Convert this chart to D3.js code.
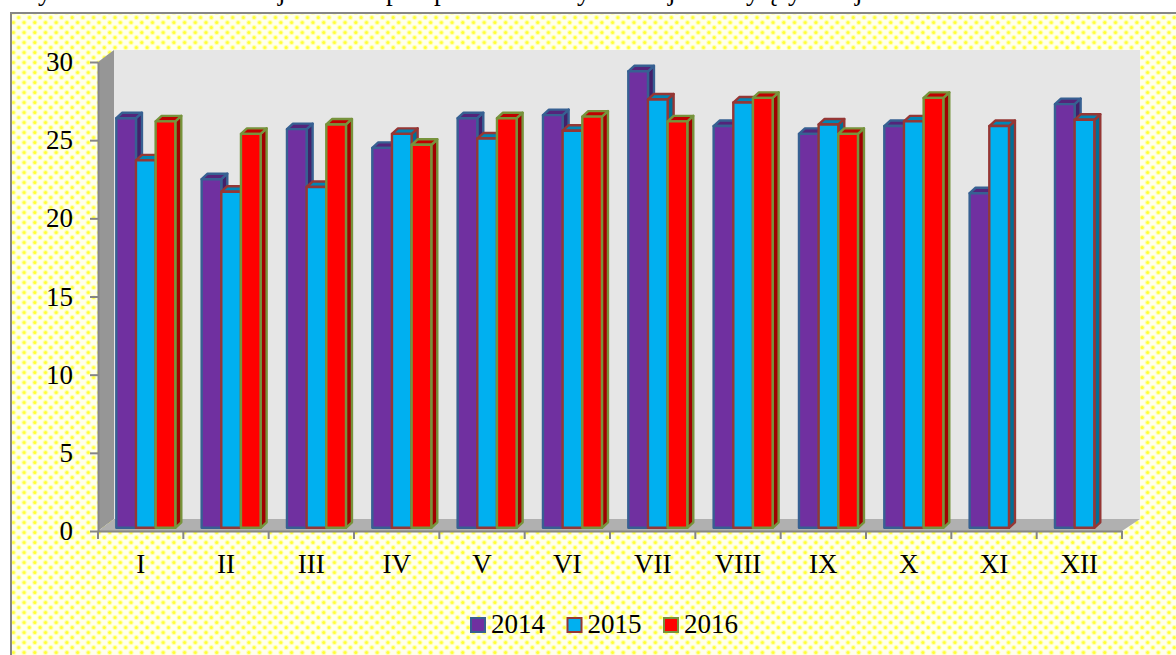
<!DOCTYPE html>
<html>
<head>
<meta charset="utf-8">
<script src="https://cdn.jsdelivr.net/npm/d3@7"></script>
<style>
    html, body { margin: 0; padding: 0; background: white; overflow: hidden; }
    text { font-family: "Liberation Serif", serif; font-size: 27px; fill: black; }
    .axis path, .axis line { stroke: #868686; stroke-width: 2px; }
</style>
</head>
<body>
<div id="chart"></div>
<script>
    const months = ["I", "II", "III", "IV", "V", "VI", "VII", "VIII", "IX", "X", "XI", "XII"];
    const years = ["2014", "2015", "2016"];
    const values2014 = [26.2, 22.3, 25.5, 24.3, 26.2, 26.4, 29.2, 25.7, 25.2, 25.7, 21.4, 27.1];
    const values2015 = [23.5, 21.5, 21.8, 25.2, 24.9, 25.4, 27.4, 27.2, 25.8, 26.0, 25.7, 26.1];
    const values2016 = [26.0, 25.2, 25.8, 24.5, 26.2, 26.3, 26.0, 27.5, 25.2, 27.5, null, null];
    const yTicks = [0, 5, 10, 15, 20, 25, 30];

    // clipped bottom of the text line above the chart
    const clippedGlyphs = ["y", "j", "p", "p", "y", "j", "y", "ę", "y", "j"];
    const clippedGlyphX = [38, 278, 386, 434, 577, 668, 746, 766, 788, 855];

    const width = 1176;
    const height = 655;
    const plot = {left: 98, right: 1122, top: 62, bottom: 531};
    const depth = {x: 16, y: 12};      // depth of the walls
    const barDepth = {x: 6, y: 5.5};   // depth of each bar
    const barLift = 3.2;               // bars stand a little behind the axis plane

    const svg = d3.select("#chart")
        .append("svg")
        .attr("width", width)
        .attr("height", height)
        .style("display", "block");

    // Dotted yellow background
    const defs = svg.append("defs");
    const dots = defs.append("pattern")
        .attr("id", "dots")
        .attr("patternUnits", "userSpaceOnUse")
        .attr("width", 10.7)
        .attr("height", 10);
    dots.append("rect").attr("width", 10.7).attr("height", 10).attr("fill", "#ffffee");
    [[2.7, 2.5], [8, 7.5]].forEach(function(c) {
        dots.append("circle").attr("cx", c[0]).attr("cy", c[1]).attr("r", 2.5).attr("fill", "#ffffaa");
        dots.append("circle").attr("cx", c[0]).attr("cy", c[1]).attr("r", 1.5).attr("fill", "#ffff33");
    });

    svg.selectAll(".glyph")
        .data(clippedGlyphs)
        .enter()
        .append("text")
        .attr("class", "glyph")
        .attr("x", function(d, i) { return clippedGlyphX[i]; })
        .attr("y", 0)
        .text(function(d) { return d; });

    svg.append("rect")
        .attr("x", 11)
        .attr("y", 13)
        .attr("width", width)
        .attr("height", height)
        .attr("fill", "url(#dots)")
        .attr("stroke", "#868686")
        .attr("stroke-width", 2);

    // Scales
    const xScale = d3.scaleBand()
        .domain(months)
        .range([plot.left, plot.right]);

    const seriesScale = d3.scaleBand()
        .domain(years)
        .range([18.3, 77.3]);

    const yScale = d3.scaleLinear()
        .domain([0, 30])
        .range([plot.bottom, plot.top]);

    const fillScale = d3.scaleOrdinal().domain(years).range(["#7030a0", "#00b0f0", "#ff0000"]);
    const sideScale = d3.scaleOrdinal().domain(years).range(["#43206a", "#006f96", "#a00000"]);
    const topScale = d3.scaleOrdinal().domain(years).range(["#54247a", "#0085b5", "#c00000"]);
    const strokeScale = d3.scaleOrdinal().domain(years).range(["#376092", "#953735", "#77933c"]);

    function points(list) {
        return list.map(function(p) { return p.join(","); }).join(" ");
    }

    // 3D walls
    svg.append("polygon")
        .attr("points", points([
            [plot.left + depth.x, plot.top - depth.y],
            [plot.right + depth.x + 2, plot.top - depth.y],
            [plot.right + depth.x + 2, plot.bottom - depth.y],
            [plot.left + depth.x, plot.bottom - depth.y]
        ]))
        .attr("fill", "#e6e6e6");

    svg.append("polygon")
        .attr("points", points([
            [plot.left, plot.top],
            [plot.left + depth.x, plot.top - depth.y],
            [plot.left + depth.x, plot.bottom - depth.y],
            [plot.left, plot.bottom]
        ]))
        .attr("fill", "#969696");

    svg.append("polygon")
        .attr("points", points([
            [plot.left, plot.bottom],
            [plot.left + depth.x, plot.bottom - depth.y],
            [plot.right + depth.x + 2, plot.bottom - depth.y],
            [plot.right, plot.bottom]
        ]))
        .attr("fill", "#b0b0b0");

    // Axes
    const yAxis = svg.append("g")
        .attr("class", "axis")
        .attr("transform", `translate(${plot.left},0)`)
        .call(d3.axisLeft().scale(yScale).tickValues(yTicks).tickSizeInner(8).tickSizeOuter(0).tickPadding(17));

    const xAxis = svg.append("g")
        .attr("class", "axis")
        .attr("transform", `translate(0,${plot.bottom})`)
        .call(d3.axisBottom().scale(xScale).tickSize(0).tickPadding(23));

    xAxis.selectAll("text").attr("dy", "0.71em").style("font-size", "27px");
    yAxis.selectAll("text").style("font-size", "27px");

    // tick marks sit between the months here
    xAxis.selectAll(".edge")
        .data(d3.range(months.length + 1))
        .enter()
        .append("line")
        .attr("class", "edge")
        .attr("x1", function(d) { return plot.left + d * xScale.step(); })
        .attr("x2", function(d) { return plot.left + d * xScale.step(); })
        .attr("y1", 0)
        .attr("y2", 8);

    // Bars
    const barData = [];
    months.forEach(function(m, i) {
        [values2014, values2015, values2016].forEach(function(vals, s) {
            if (vals[i] !== null) {
                barData.push({month: m, year: years[s], value: vals[i]});
            }
        });
    });

    const bars = svg.selectAll(".bar")
        .data(barData)
        .enter()
        .append("g")
        .attr("class", "bar")
        .attr("stroke", function(d) { return strokeScale(d.year); })
        .attr("stroke-width", 2.4)
        .attr("stroke-linejoin", "round");

    const bw = seriesScale.bandwidth();
    const barX = function(d) { return xScale(d.month) + seriesScale(d.year); };
    const barY = function(d) { return yScale(d.value) - barLift; };
    const barBase = plot.bottom - barLift;

    bars.append("polygon")
        .attr("fill", function(d) { return sideScale(d.year); })
        .attr("points", function(d) {
            const x = barX(d) + bw, y = barY(d);
            return points([[x, y], [x + barDepth.x, y - barDepth.y], [x + barDepth.x, barBase - barDepth.y], [x, barBase]]);
        });

    bars.append("polygon")
        .attr("fill", function(d) { return topScale(d.year); })
        .attr("points", function(d) {
            const x = barX(d), y = barY(d);
            return points([[x, y], [x + barDepth.x, y - barDepth.y], [x + bw + barDepth.x, y - barDepth.y], [x + bw, y]]);
        });

    bars.append("rect")
        .attr("fill", function(d) { return fillScale(d.year); })
        .attr("x", barX)
        .attr("y", barY)
        .attr("width", bw)
        .attr("height", function(d) { return barBase - barY(d); });

    // Legend
    const legend = svg.selectAll(".legend")
        .data(years)
        .enter()
        .append("g")
        .attr("class", "legend")
        .attr("transform", function(d, i) { return `translate(${471 + i * 96.5},618)`; });

    legend.append("rect")
        .attr("width", 14)
        .attr("height", 14)
        .attr("fill", function(d) { return fillScale(d); })
        .attr("stroke", function(d) { return strokeScale(d); })
        .attr("stroke-width", 2);

    legend.append("text")
        .attr("x", 20)
        .attr("y", 15)
        .text(function(d) { return d; });
</script>
</body>
</html>
